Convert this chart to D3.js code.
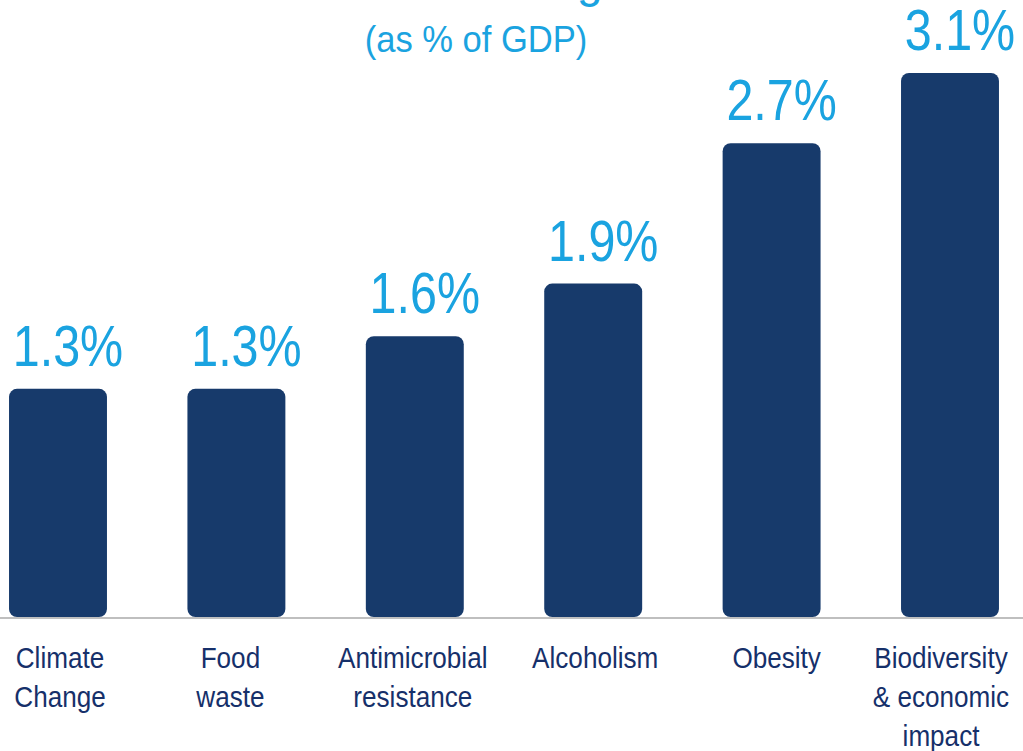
<!DOCTYPE html>
<html>
<head>
<meta charset="utf-8">
<script src="https://cdn.jsdelivr.net/npm/d3@7"></script>
<style>
  html, body { margin: 0; padding: 0; background: #ffffff; }
  svg { display: block; }
  text { font-family: "Liberation Sans", Arial, Helvetica, sans-serif; }
</style>
</head>
<body>
<svg id="chart" width="1023" height="751"></svg>
<script>
// Cost of each issue, as % of GDP
const categories = [
  ["Climate", "Change"],
  ["Food", "waste"],
  ["Antimicrobial", "resistance"],
  ["Alcoholism"],
  ["Obesity"],
  ["Biodiversity", "& economic", "impact"]
];
const values = [1.3, 1.3, 1.6, 1.9, 2.7, 3.1];
const valueLabels = ["1.3%", "1.3%", "1.6%", "1.9%", "2.7%", "3.1%"];
const titleText = "Costs of not acting now";
const subtitleText = "(as % of GDP)";

// small horizontal nudges for the category captions
const captionNudge = [2, -6, -2, 2, 5, -9];

const W = 1023, H = 751;
const baseY = 617;

const svg = d3.select("#chart");

const keys = categories.map((c, i) => i);

const x = d3.scaleBand()
  .domain(keys)
  .range([-31.2, 1039.2])
  .paddingInner(0.451)
  .paddingOuter(0.2255);

const y = d3.scaleLinear()
  .domain([0, 3.5])
  .range([baseY, 2.75]);

// Title (running off the top edge) and subtitle
svg.append("text")
  .attr("transform", "translate(221,-3) scale(0.96,1)")
  .attr("font-size", 48)
  .attr("fill", "#1aa3e0")
  .text(titleText);

svg.append("text")
  .attr("transform", "translate(476,52) scale(0.96,1)")
  .attr("text-anchor", "middle")
  .attr("font-size", 36)
  .attr("fill", "#1aa3e0")
  .text(subtitleText);

// Bars
svg.append("g")
  .selectAll("rect")
  .data(values)
  .join("rect")
  .attr("x", (d, i) => x(i))
  .attr("y", d => y(d))
  .attr("width", x.bandwidth())
  .attr("height", d => y(0) - y(d))
  .attr("rx", 8)
  .attr("ry", 8)
  .attr("fill", "#173a6b");

// Baseline axis
const axis = d3.axisBottom(x).tickSize(0).tickFormat("");
const axisG = svg.append("g")
  .attr("transform", `translate(0,${baseY + 1})`)
  .call(axis);
axisG.select(".domain")
  .attr("d", `M0,0H${W}`)
  .attr("stroke", "#bfbfbf")
  .attr("stroke-width", 2);

// Value labels above bars
svg.append("g")
  .selectAll("text")
  .data(values)
  .join("text")
  .attr("transform", (d, i) => `translate(${x(i) + x.bandwidth() / 2 + 10},${y(d) - 23}) scale(0.85,1)`)
  .attr("text-anchor", "middle")
  .attr("font-size", 57)
  .attr("fill", "#1aa3e0")
  .text((d, i) => valueLabels[i]);

// Category labels below the axis
const catG = svg.append("g")
  .selectAll("g")
  .data(categories)
  .join("g")
  .attr("transform", (d, i) => `translate(${x(i) + x.bandwidth() / 2 + captionNudge[i]},668)`);

catG.selectAll("text")
  .data(d => d)
  .join("text")
  .attr("transform", (d, j) => `translate(0,${j * 39}) scale(0.87,1)`)
  .attr("text-anchor", "middle")
  .attr("font-size", 30)
  .attr("fill", "#16306a")
  .text(d => d);
</script>
</body>
</html>
